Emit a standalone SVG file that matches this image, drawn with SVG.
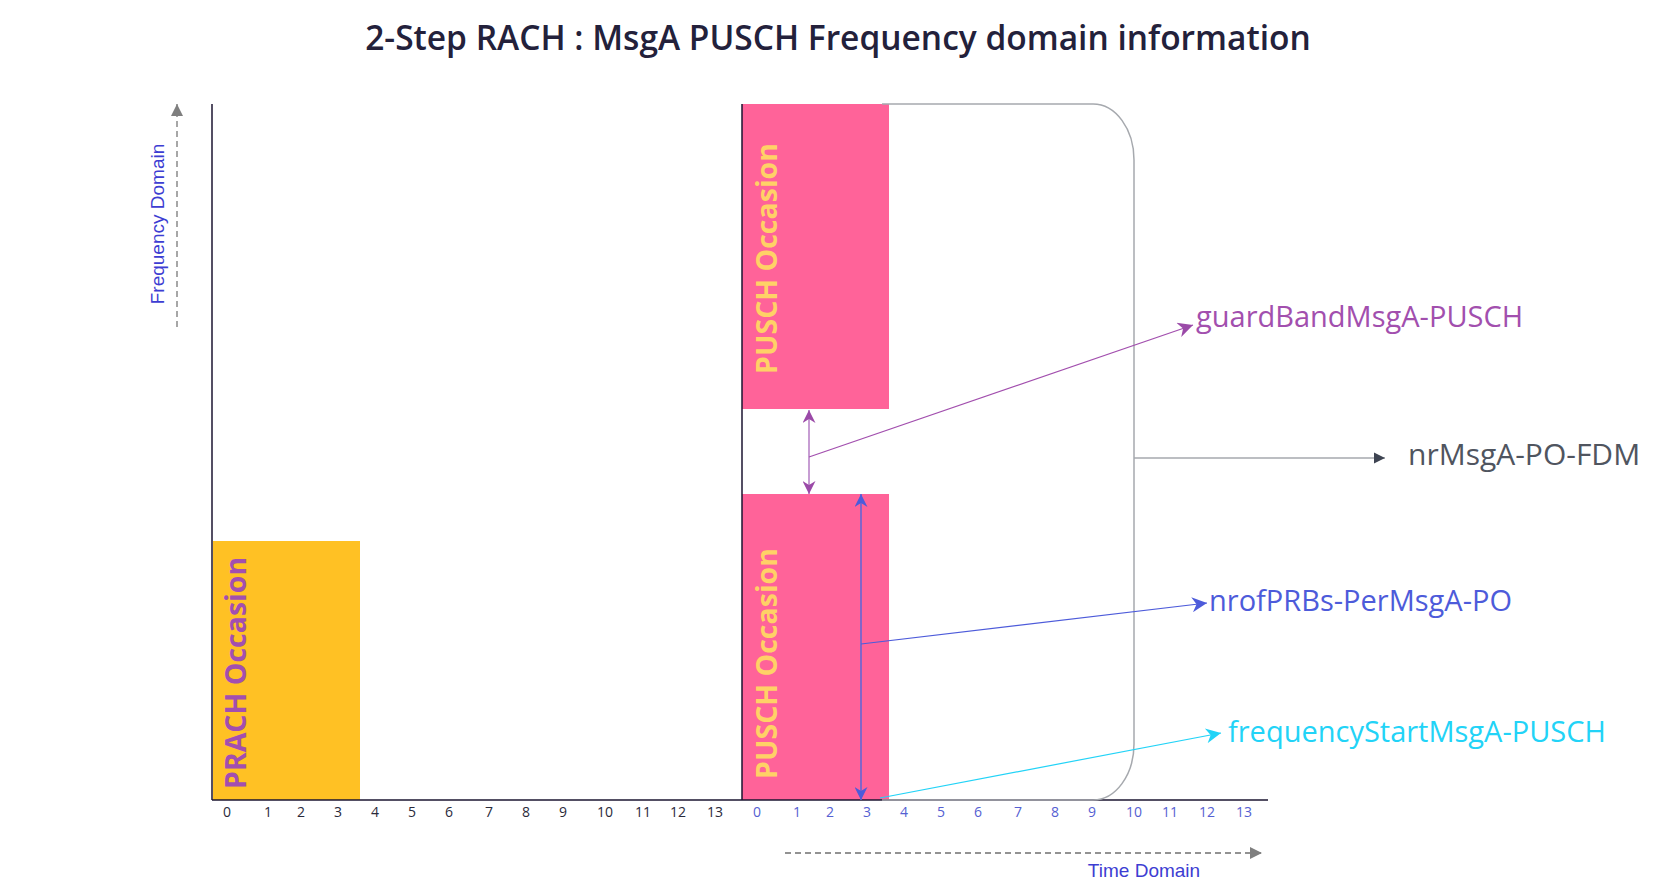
<svg xmlns="http://www.w3.org/2000/svg" width="1677" height="894" viewBox="0 0 1677 894">
<style>
.title{font-family:"Open Sans","Noto Sans",sans-serif;font-weight:600;font-size:33.5px;fill:#23213b}
.occ{font-family:"Open Sans","Noto Sans",sans-serif;font-weight:700;font-size:28.5px}
.lbl{font-family:"Open Sans","Noto Sans",sans-serif;font-size:29px}
.tick{font-family:"Open Sans","Noto Sans",sans-serif;font-size:14px;text-anchor:middle}
.t1{fill:#2a2a3a}
.t2{fill:#5560d2}
.axisname{font-family:"Liberation Sans",Arial,sans-serif;font-size:19px;fill:#3d3dd2}
.axis{stroke:#1b1530;stroke-width:1.5;fill:none}
</style>
<defs>
<marker id="hPurple" viewBox="0 0 10 10" refX="10" refY="5" markerWidth="14" markerHeight="13" markerUnits="userSpaceOnUse" orient="auto-start-reverse"><path d="M0,0 L10,5 L0,10 L3,5 z" fill="#9b4aa8"/></marker>
<marker id="hPurpleL" viewBox="0 0 10 10" refX="10" refY="5" markerWidth="17" markerHeight="15" markerUnits="userSpaceOnUse" orient="auto"><path d="M0,0 L10,5 L0,10 L3,5 z" fill="#9b4aa8"/></marker>
<marker id="hBlue" viewBox="0 0 10 10" refX="10" refY="5" markerWidth="14" markerHeight="13" markerUnits="userSpaceOnUse" orient="auto-start-reverse"><path d="M0,0 L10,5 L0,10 L3,5 z" fill="#4d5bda"/></marker>
<marker id="hBlueL" viewBox="0 0 10 10" refX="10" refY="5" markerWidth="17" markerHeight="15" markerUnits="userSpaceOnUse" orient="auto"><path d="M0,0 L10,5 L0,10 L3,5 z" fill="#4d5bda"/></marker>
<marker id="hCyan" viewBox="0 0 10 10" refX="10" refY="5" markerWidth="17" markerHeight="15" markerUnits="userSpaceOnUse" orient="auto"><path d="M0,0 L10,5 L0,10 L3,5 z" fill="#22d3f7"/></marker>
<marker id="hDark" viewBox="0 0 10 10" refX="10" refY="5" markerWidth="11" markerHeight="13" markerUnits="userSpaceOnUse" orient="auto"><path d="M0,0 L10,5 L0,10 z" fill="#3e4452"/></marker>
<marker id="hGray" viewBox="0 0 10 10" refX="10" refY="5" markerWidth="12" markerHeight="12" markerUnits="userSpaceOnUse" orient="auto"><path d="M0,0 L10,5 L0,10 z" fill="#7f7f7f"/></marker>
</defs>
<rect width="1677" height="894" fill="#ffffff"/>
<text class="title" x="838" y="50" text-anchor="middle">2-Step RACH : MsgA PUSCH Frequency domain information</text>

<g id="prach-occasion">
<rect x="213" y="541" width="147" height="259" fill="#ffc124"/>
<text class="occ" fill="#a24fb0" transform="translate(246,789) rotate(-90)">PRACH Occasion</text>
</g>
<g id="pusch-occasion-upper">
<rect x="742" y="104" width="147" height="305" fill="#ff6399"/>
<text class="occ" fill="#ffd166" transform="translate(777,374) rotate(-90)">PUSCH Occasion</text>
</g>
<g id="pusch-occasion-lower">
<rect x="742" y="494" width="147" height="306" fill="#ff6399"/>
<text class="occ" fill="#ffd166" transform="translate(777,779) rotate(-90)">PUSCH Occasion</text>
</g>

<g id="axes">
<line class="axis" x1="212" y1="104" x2="212" y2="800"/>
<line class="axis" x1="742" y1="104" x2="742" y2="800"/>
<line class="axis" x1="212" y1="800" x2="1268" y2="800"/>
</g>

<g id="ticks-prach">
<text class="tick t1" x="227" y="817">0</text>
<text class="tick t1" x="268" y="817">1</text>
<text class="tick t1" x="301" y="817">2</text>
<text class="tick t1" x="338" y="817">3</text>
<text class="tick t1" x="375" y="817">4</text>
<text class="tick t1" x="412" y="817">5</text>
<text class="tick t1" x="449" y="817">6</text>
<text class="tick t1" x="489" y="817">7</text>
<text class="tick t1" x="526" y="817">8</text>
<text class="tick t1" x="563" y="817">9</text>
<text class="tick t1" x="605" y="817">10</text>
<text class="tick t1" x="643" y="817">11</text>
<text class="tick t1" x="678" y="817">12</text>
<text class="tick t1" x="715" y="817">13</text>
</g>
<g id="ticks-pusch">
<text class="tick t2" x="757" y="817">0</text>
<text class="tick t2" x="797" y="817">1</text>
<text class="tick t2" x="830" y="817">2</text>
<text class="tick t2" x="867" y="817">3</text>
<text class="tick t2" x="904" y="817">4</text>
<text class="tick t2" x="941" y="817">5</text>
<text class="tick t2" x="978" y="817">6</text>
<text class="tick t2" x="1018" y="817">7</text>
<text class="tick t2" x="1055" y="817">8</text>
<text class="tick t2" x="1092" y="817">9</text>
<text class="tick t2" x="1134" y="817">10</text>
<text class="tick t2" x="1170" y="817">11</text>
<text class="tick t2" x="1207" y="817">12</text>
<text class="tick t2" x="1244" y="817">13</text>
</g>

<g id="frequency-domain-axis">
<line x1="177" y1="327" x2="177" y2="104" stroke="#8a8a8a" stroke-width="1.5" stroke-dasharray="6,4" marker-end="url(#hGray)"/>
<text class="axisname" transform="translate(164,224) rotate(-90)" text-anchor="middle">Frequency Domain</text>
</g>
<g id="time-domain-axis">
<line x1="785" y1="853" x2="1262" y2="853" stroke="#6f6f6f" stroke-width="1.5" stroke-dasharray="6,4" marker-end="url(#hGray)"/>
<text class="axisname" x="1144" y="877" text-anchor="middle">Time Domain</text>
</g>

<g id="labels">
<text id="guardBand" class="lbl" x="1196" y="327" fill="#a24fae">guardBandMsgA-PUSCH</text>
<text id="nrMsgA" class="lbl" x="1408" y="465" fill="#50555f" style="font-size:30px">nrMsgA-PO-FDM</text>
<text id="nrofPRBs" class="lbl" x="1209" y="611" fill="#4d5bda">nrofPRBs-PerMsgA-PO</text>
<text id="freqStart" class="lbl" x="1228" y="742" fill="#22d3f7">frequencyStartMsgA-PUSCH</text>
</g>

<g id="connectors" fill="none">
<path d="M 882 104 H 1093 A 41 56 0 0 1 1134 160 V 744 A 41 56 0 0 1 1093 800 H 882" stroke="#a6a9ae" stroke-width="1.5"/>
<line x1="1134" y1="458" x2="1385" y2="458" stroke="#a6a9ae" stroke-width="1.5" marker-end="url(#hDark)"/>
<line x1="809" y1="410" x2="809" y2="494" stroke="#b47cc4" stroke-width="1.5" marker-start="url(#hPurple)" marker-end="url(#hPurple)"/>
<line x1="809" y1="457" x2="1193" y2="325" stroke="#a24fae" stroke-width="1.2" marker-end="url(#hPurpleL)"/>
<line x1="861" y1="494" x2="861" y2="800" stroke="#5a66d8" stroke-width="1.5" marker-start="url(#hBlue)" marker-end="url(#hBlue)"/>
<line x1="861" y1="644" x2="1207" y2="603" stroke="#4d5bda" stroke-width="1.2" marker-end="url(#hBlueL)"/>
<line x1="880" y1="798" x2="1221" y2="733" stroke="#22d3f7" stroke-width="1.2" marker-end="url(#hCyan)"/>
</g>
</svg>
